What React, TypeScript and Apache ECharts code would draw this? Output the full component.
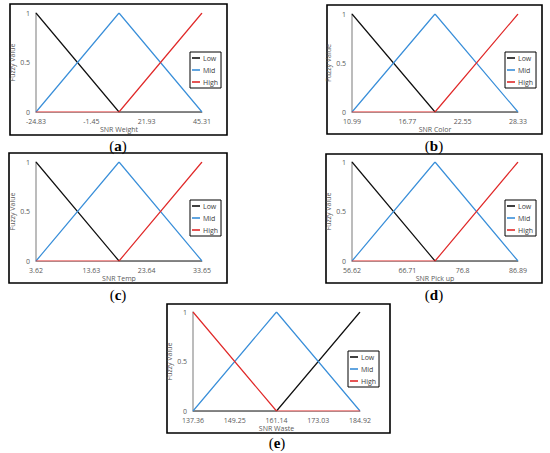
import React, { useEffect, useRef } from "react";
import * as echarts from "echarts";

// ---- Data ----
const seriesNames = ["Low", "Mid", "High"];
const yTicks = [0, 0.5, 1];

const aName = "SNR Weight";
const aTicks = [-24.83, -1.45, 21.93, 45.31];
const aX = [-24.83, 10.24, 45.31];
const aLow = [1, 0, 0];
const aMid = [0, 1, 0];
const aHigh = [0, 0, 1];

const bName = "SNR Color";
const bTicks = [10.99, 16.77, 22.55, 28.33];
const bX = [10.99, 19.66, 28.33];
const bLow = [1, 0, 0];
const bMid = [0, 1, 0];
const bHigh = [0, 0, 1];

const cName = "SNR Temp";
const cTicks = [3.62, 13.63, 23.64, 33.65];
const cX = [3.62, 18.64, 33.65];
const cLow = [1, 0, 0];
const cMid = [0, 1, 0];
const cHigh = [0, 0, 1];

const dName = "SNR Pick up";
const dTicks = [56.62, 66.71, 76.8, 86.89];
const dX = [56.62, 71.76, 86.89];
const dLow = [1, 0, 0];
const dMid = [0, 1, 0];
const dHigh = [0, 0, 1];

const eName = "SNR Waste";
const eTicks = [137.36, 149.25, 161.14, 173.03, 184.92];
const eX = [137.36, 161.14, 184.92];
const eLow = [0, 0, 1];
const eMid = [0, 1, 0];
const eHigh = [1, 0, 0];

const captions = ["a", "b", "c", "d", "e"];

// ---- Layout (pixels) ----
const layouts = [
  { box: [10, 4, 217, 131], plot: [36, 13, 166, 99], legend: [190, 52], cap: [118, 146] },
  { box: [327, 5, 215, 129], plot: [352, 14, 166, 98], legend: [505, 52], cap: [434, 146] },
  { box: [9, 153, 218, 130], plot: [36, 162, 166, 99], legend: [190, 200], cap: [118, 295] },
  { box: [326, 154, 216, 129], plot: [352, 162, 166, 99], legend: [505, 200], cap: [434, 295] },
  { box: [167, 304, 223, 129], plot: [193, 312, 167, 99], legend: [348, 351], cap: [277, 443] },
];

const colors = ["#111111", "#3a8fd9", "#e02a2a"];
const FONT = "Open Sans";
const TXT = "#595959";

const panels = [
  { name: aName, ticks: aTicks, xs: aX, vals: [aLow, aMid, aHigh] },
  { name: bName, ticks: bTicks, xs: bX, vals: [bLow, bMid, bHigh] },
  { name: cName, ticks: cTicks, xs: cX, vals: [cLow, cMid, cHigh] },
  { name: dName, ticks: dTicks, xs: dX, vals: [dLow, dMid, dHigh] },
  { name: eName, ticks: eTicks, xs: eX, vals: [eLow, eMid, eHigh] },
];

export default function App() {
  const ref = useRef<HTMLDivElement>(null);
  useEffect(() => {
    if (!ref.current) return;
    const chart = echarts.init(ref.current, null, { renderer: "svg" });

    const grid: any[] = [];
    const xAxis: any[] = [];
    const yAxis: any[] = [];
    const legend: any[] = [];
    const series: any[] = [];
    const graphic: any[] = [];

    panels.forEach((p, i) => {
      const L = layouts[i];
      grid.push({ left: L.plot[0], top: L.plot[1], width: L.plot[2], height: L.plot[3], containLabel: false });
      xAxis.push({
        gridIndex: i,
        type: "value",
        min: p.ticks[0],
        max: p.ticks[p.ticks.length - 1],
        name: p.name,
        nameLocation: "middle",
        nameGap: 13,
        nameTextStyle: { fontFamily: FONT, fontSize: 7, color: TXT },
        axisLine: { show: true, onZero: false, lineStyle: { color: "#a6a6a6", width: 1 } },
        axisTick: { show: false, customValues: p.ticks },
        splitLine: { show: false },
        axisLabel: {
          customValues: p.ticks,
          margin: 6,
          fontFamily: FONT,
          fontSize: 7,
          color: TXT,
          formatter: (v: number) => String(parseFloat(v.toFixed(2))),
        },
      });
      yAxis.push({
        gridIndex: i,
        type: "value",
        min: 0,
        max: 1,
        interval: 0.5,
        name: "Fuzzy Value",
        nameLocation: "middle",
        nameGap: 12,
        nameTextStyle: { fontFamily: FONT, fontSize: 7, color: TXT },
        axisLine: { show: true, onZero: false, lineStyle: { color: "#a6a6a6", width: 1.5 } },
        axisTick: { show: false },
        splitLine: { show: false },
        axisLabel: {
          customValues: yTicks,
          margin: 6,
          fontFamily: FONT,
          fontSize: 7,
          color: TXT,
          formatter: (v: number) => String(v),
        },
      });
      legend.push({
        data: seriesNames,
        left: L.legend[0],
        top: L.legend[1],
        orient: "vertical",
        icon: "rect",
        itemWidth: 8,
        itemHeight: 1.6,
        itemGap: 4,
        padding: [2, 3, 2, 2],
        borderColor: "#000",
        borderWidth: 1,
        selectedMode: false,
        textStyle: { fontFamily: FONT, fontSize: 7, color: "#404040", lineHeight: 8, padding: [0, 0, 0, -2] },
      });
      p.vals.forEach((vals, k) => {
        series.push({
          name: seriesNames[k],
          type: "line",
          xAxisIndex: i,
          yAxisIndex: i,
          symbol: "none",
          color: colors[k],
          lineStyle: { color: colors[k], width: 1.2 },
          data: p.xs.map((x, j) => [x, vals[j]]),
        });
      });
      graphic.push({
        type: "rect",
        shape: { x: L.box[0], y: L.box[1], width: L.box[2], height: L.box[3] },
        style: { fill: "none", stroke: "#000", lineWidth: 1.6 },
        silent: true,
      });
      graphic.push({
        type: "text",
        x: L.cap[0],
        y: L.cap[1],
        style: {
          text: "{p|(}{b|" + captions[i] + "}{p|)}",
          align: "center",
          verticalAlign: "middle",
          rich: {
            p: { fontFamily: "Liberation Serif", fontSize: 15, fill: "#000" },
            b: { fontFamily: "Liberation Serif", fontSize: 15, fontWeight: "bold", fill: "#000" },
          },
        },
        silent: true,
      });
    });

    chart.setOption({
      animation: false,
      backgroundColor: "#ffffff",
      grid,
      xAxis,
      yAxis,
      legend,
      series,
      graphic,
    });
    return () => chart.dispose();
  }, []);
  return (
    <div
      ref={ref}
      style={{ position: "absolute", left: 0, top: 0, width: 550, height: 453 }}
    />
  );
}
